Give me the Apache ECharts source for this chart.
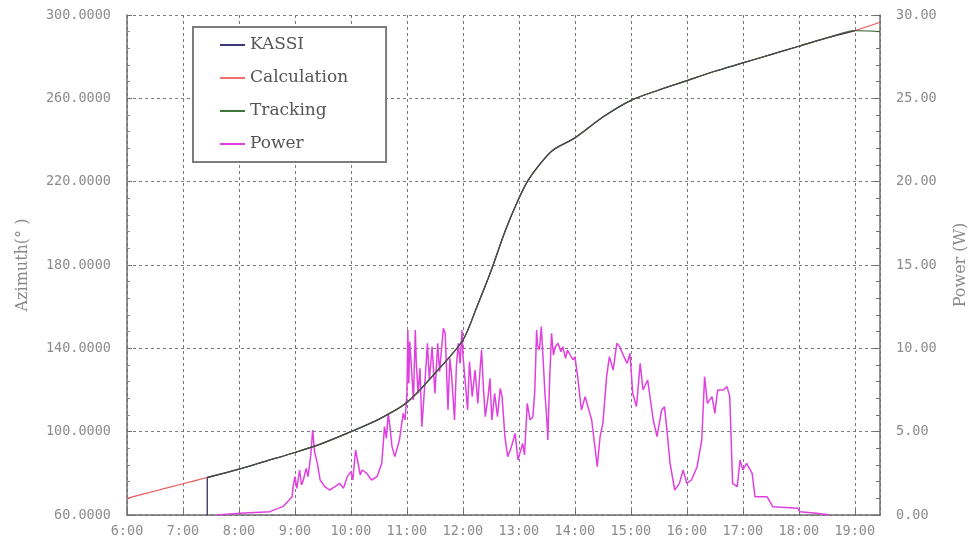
<!DOCTYPE html>
<html>
<head>
<meta charset="utf-8">
<script src="https://cdn.jsdelivr.net/npm/echarts@6/dist/echarts.min.js"></script>
<style>
  html, body { margin: 0; padding: 0; background: #fff; }
  #chart { width: 969px; height: 551px; }
</style>
</head>
<body>
<div id="chart"></div>
<script>
// Sun azimuth (degrees) over the day: computed path, plus the tracker and KASSI logs
const calcTimes = ['6:00','6:30','7:00','7:26','8:00','8:30','9:00','9:30','10:00','10:30','11:00','11:30','12:00','12:15','12:30','12:45','12:58','13:09','13:20','13:36','14:00','14:30','15:00','15:30','16:00','16:30','17:00','17:30','18:00','18:30','19:00','19:27'];
const calcValues = [68, 71.5, 75, 78, 82, 86, 90, 94.5, 100, 106, 114, 128, 144, 160, 177, 196, 210, 220, 227, 235, 241, 251, 259, 264, 268.5, 273, 277, 281, 285, 289, 292.5, 296.5];

const trackTimes = ['7:26','8:00','8:30','9:00','9:30','10:00','10:30','11:00','11:30','12:00','12:15','12:30','12:45','12:58','13:09','13:20','13:36','14:00','14:30','15:00','15:30','16:00','16:30','17:00','17:30','18:00','18:30','19:00','19:27'];
const trackValues = [78, 82, 86, 90, 94.5, 100, 106, 114, 128, 144, 160, 177, 196, 210, 220, 227, 235, 241, 251, 259, 264, 268.5, 273, 277, 281, 285, 289, 292.5, 292];

// KASSI log: switched on at 7:26 (reading jumps up from the axis floor)
const kassiStartTimes = ['7:26','7:26'];
const kassiStartValues = [60, 78];
const kassiTimes = ['7:26','8:00','8:30','9:00','9:30','10:00','10:30','11:00','11:30','12:00','12:15','12:30','12:45','12:58','13:09','13:20','13:36','14:00','14:30','15:00','15:30','16:00','16:30','17:00','17:30','18:00','18:30','19:00'];
const kassiValues = [78, 82, 86, 90, 94.5, 100, 106, 114, 128, 144, 160, 177, 196, 210, 220, 227, 235, 241, 251, 259, 264, 268.5, 273, 277, 281, 285, 289, 292.5];

// Measured panel power (W)
const powerTimes = ['7:36','8:01','8:33','8:47','8:57','8:58','9:00','9:02','9:05','9:07','9:09','9:12','9:14','9:17','9:19','9:21','9:24','9:27','9:32','9:37','9:43','9:48','9:52','9:56','10:00','10:02','10:05','10:07','10:10','10:12','10:17','10:22','10:28','10:33','10:36','10:38','10:40','10:42','10:44','10:47','10:52','10:56','10:58','11:00','11:01','11:02','11:03','11:05','11:07','11:09','11:10','11:12','11:14','11:16','11:19','11:22','11:24','11:27','11:30','11:33','11:35','11:37','11:39','11:41','11:44','11:46','11:48','11:51','11:53','11:55','11:57','11:59','12:00','12:02','12:05','12:07','12:10','12:13','12:16','12:18','12:20','12:22','12:24','12:27','12:29','12:31','12:34','12:37','12:40','12:42','12:45','12:48','12:52','12:56','12:59','13:01','13:04','13:06','13:09','13:12','13:15','13:17','13:19','13:20','13:22','13:24','13:26','13:28','13:30','13:31','13:33','13:35','13:37','13:39','13:42','13:45','13:47','13:50','13:52','13:55','13:58','14:00','14:03','14:07','14:11','14:14','14:18','14:21','14:24','14:27','14:30','14:34','14:37','14:41','14:45','14:48','14:51','14:56','14:59','15:02','15:06','15:10','15:13','15:18','15:24','15:28','15:33','15:36','15:39','15:42','15:47','15:52','15:56','16:00','16:05','16:11','16:16','16:19','16:22','16:27','16:30','16:33','16:39','16:43','16:46','16:49','16:54','16:57','17:00','17:04','17:10','17:13','17:26','17:29','17:32','17:59','18:01','18:19','18:33'];
const powerValues = [0.0, 0.1, 0.2, 0.5, 1.1, 1.7, 2.3, 1.6, 2.7, 1.8, 2.1, 2.8, 2.3, 3.6, 5.1, 3.8, 3.1, 2.1, 1.7, 1.5, 1.7, 1.9, 1.6, 2.3, 2.6, 2.1, 3.9, 3.3, 2.4, 2.7, 2.5, 2.1, 2.3, 3.1, 5.3, 4.6, 6.1, 5.2, 4.1, 3.5, 4.5, 6.1, 5.7, 7.3, 11.1, 7.9, 10.4, 8.7, 6.9, 11.1, 9.2, 7.3, 8.8, 5.3, 7.7, 10.3, 8.1, 10.1, 7.3, 10.3, 8.6, 9.9, 11.2, 10.9, 6.3, 9.4, 8.3, 5.7, 8.9, 10.3, 9.1, 11.1, 9.6, 8.3, 6.3, 9.2, 7.1, 8.7, 6.7, 8.4, 9.9, 7.6, 5.9, 7.1, 8.2, 5.7, 7.3, 5.9, 7.6, 7.1, 4.7, 3.5, 4.1, 4.9, 3.3, 3.3, 4.3, 3.6, 6.7, 5.7, 5.9, 7.4, 11.1, 10.2, 9.9, 11.3, 9.3, 7.2, 5.7, 4.5, 8.2, 10.9, 9.6, 10.1, 10.3, 9.8, 10.1, 9.4, 9.9, 9.6, 9.3, 9.5, 8.3, 6.3, 7.1, 6.5, 5.7, 4.3, 2.9, 4.7, 5.5, 8.3, 9.5, 8.7, 10.3, 10.1, 9.7, 9.1, 9.7, 7.3, 6.5, 9.1, 7.5, 8.1, 5.7, 4.7, 6.3, 6.5, 4.9, 3.1, 1.5, 1.9, 2.7, 1.9, 2.1, 2.9, 4.5, 8.3, 6.7, 7.1, 6.1, 7.5, 7.5, 7.7, 7.1, 1.9, 1.7, 3.3, 2.7, 3.1, 2.5, 1.1, 1.1, 0.8, 0.5, 0.4, 0.2, 0.1, 0.0];

// Axis ranges and ticks
const timeMin = '6:00';
const timeMax = '19:27';
const timeStep = 60;
const azimuthTicks = [60, 100, 140, 180, 220, 260, 300];
const powerTicks = [0, 5, 10, 15, 20, 25, 30];

const toMin = s => { const p = s.split(':'); return Number(p[0]) * 60 + Number(p[1]); };
const pairs = (ts, vs) => ts.map((t, i) => [toMin(t), vs[i]]);
const fmtHour = v => (v % 60 === 0 ? (v / 60) + ':00' : '');

const labelFont = { color: '#8c8c8c', fontFamily: 'DejaVu Sans Mono', fontSize: 13.5 };
const gridLine = { show: true, lineStyle: { color: '#7a7a7a', type: [3, 3], width: 1 } };
const kassiLine = { color: '#2f2f5c', width: 1.3 };

const chart = echarts.init(document.getElementById('chart'), null, { renderer: 'canvas' });
chart.setOption({
  animation: false,
  backgroundColor: '#ffffff',
  grid: { left: 127, right: 89, top: 15, bottom: 36, containLabel: false, outerBoundsMode: 'none' },
  legend: {
    orient: 'vertical',
    left: 193, top: 27,
    padding: [8, 38, 8, 27],
    itemGap: 13,
    itemWidth: 25, itemHeight: 2,
    itemStyle: { borderWidth: 0 },
    icon: 'rect',
    backgroundColor: '#ffffff',
    borderColor: '#7d7d7d', borderWidth: 2,
    textStyle: { fontFamily: 'DejaVu Serif', fontSize: 17, color: '#555555', lineHeight: 20 },
    data: ['KASSI', 'Calculation', 'Tracking', 'Power']
  },
  xAxis: {
    type: 'value',
    min: toMin(timeMin), max: toMin(timeMax), interval: timeStep,
    axisLine: { show: true, onZero: false, lineStyle: { color: '#6e6e6e', width: 1.5 } },
    axisTick: { show: true, inside: true, length: 5, lineStyle: { color: '#6e6e6e' } },
    axisLabel: { ...labelFont, margin: 9, formatter: fmtHour, showMaxLabel: false },
    splitLine: gridLine
  },
  yAxis: [
    {
      type: 'value', position: 'left',
      min: azimuthTicks[0], max: azimuthTicks[azimuthTicks.length - 1],
      interval: azimuthTicks[1] - azimuthTicks[0],
      name: 'Azimuth(° )', nameLocation: 'middle', nameGap: 96, nameRotate: 90,
      nameTextStyle: { fontFamily: 'DejaVu Serif', fontSize: 16, color: '#8a8a8a' },
      axisLine: { show: true, lineStyle: { color: '#6e6e6e', width: 1.5 } },
      axisTick: { show: true, inside: true, length: 5, lineStyle: { color: '#6e6e6e' } },
      minorTick: { show: true, splitNumber: 5, length: 3, lineStyle: { color: '#8a8a8a' } },
      axisLabel: { ...labelFont, margin: 16, formatter: v => v.toFixed(4) },
      splitLine: gridLine
    },
    {
      type: 'value', position: 'right',
      min: powerTicks[0], max: powerTicks[powerTicks.length - 1],
      interval: powerTicks[1] - powerTicks[0],
      name: 'Power (W)', nameLocation: 'middle', nameGap: 73, nameRotate: 90,
      nameTextStyle: { fontFamily: 'DejaVu Serif', fontSize: 16, color: '#8a8a8a' },
      axisLine: { show: true, lineStyle: { color: '#6e6e6e', width: 1.5 } },
      axisTick: { show: true, inside: true, length: 6, lineStyle: { color: '#6e6e6e' } },
      minorTick: { show: true, splitNumber: 5, length: 4, lineStyle: { color: '#6e6e6e' } },
      axisLabel: { ...labelFont, margin: 16, formatter: v => v.toFixed(2) },
      splitLine: { show: false }
    }
  ],
  series: [
    {
      name: 'Power', type: 'line', yAxisIndex: 1, showSymbol: false,
      data: pairs(powerTimes, powerValues),
      lineStyle: { color: '#e040e0', width: 1.5 }, itemStyle: { color: '#e040e0' }
    },
    {
      name: 'Calculation', type: 'line', yAxisIndex: 0, showSymbol: false,
      smooth: 0.3,
      data: pairs(calcTimes, calcValues),
      lineStyle: { color: '#e85a5a', width: 1.2 }, itemStyle: { color: '#f07070' }
    },
    {
      name: 'KASSI', type: 'line', yAxisIndex: 0, showSymbol: false,
      data: pairs(kassiStartTimes, kassiStartValues),
      lineStyle: kassiLine, itemStyle: { color: '#3a3a7a' }
    },
    {
      name: 'KASSI', type: 'line', yAxisIndex: 0, showSymbol: false,
      smooth: 0.3,
      data: pairs(kassiTimes, kassiValues),
      lineStyle: kassiLine, itemStyle: { color: '#3a3a7a' }
    },
    {
      name: 'Tracking', type: 'line', yAxisIndex: 0, showSymbol: false,
      smooth: 0.3,
      data: pairs(trackTimes, trackValues),
      lineStyle: { color: '#3f5f3a', width: 1.1, opacity: 0.85 }, itemStyle: { color: '#3c7a3c' }
    }
  ]
});
</script>
</body>
</html>
